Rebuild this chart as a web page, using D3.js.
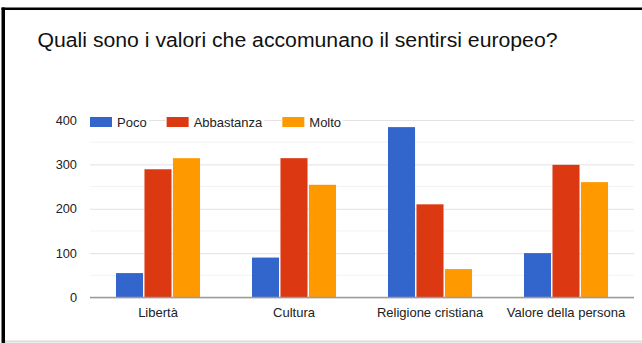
<!DOCTYPE html>
<html>
<head>
<meta charset="utf-8">
<script src="https://cdn.jsdelivr.net/npm/d3@7"></script>
<style>
  html, body { margin: 0; padding: 0; background: #fff; }
  svg { display: block; font-family: "Liberation Sans", Arial, sans-serif; }
</style>
</head>
<body>
<svg id="chart" width="642" height="343"></svg>
<script>
// Survey answers per shared value
const categories = ["Libertà", "Cultura", "Religione cristiana", "Valore della persona"];
const seriesNames = ["Poco", "Abbastanza", "Molto"];
const poco = [55, 90, 384, 100];
const abbastanza = [289, 314, 210, 299];
const molto = [314, 254, 64, 260];
const yTicks = [0, 100, 200, 300, 400];
const yMinorTicks = [50, 150, 250, 350];
const colors = ["#3366cc", "#dc3912", "#ff9900"];
const title = "Quali sono i valori che accomunano il sentirsi europeo?";

const seriesValues = [poco, abbastanza, molto];
const rows = categories.map((c, i) => ({
  category: c,
  values: seriesNames.map((s, j) => ({ series: s, value: seriesValues[j][i] }))
}));

const svg = d3.select("#chart");

// Frame
svg.append("line").attr("x1", 3.25).attr("x2", 3.25).attr("y1", 7.5).attr("y2", 343)
  .attr("stroke", "#000").attr("stroke-width", 3.5);
svg.append("line").attr("x1", 1.5).attr("x2", 642).attr("y1", 8.75).attr("y2", 8.75)
  .attr("stroke", "#000").attr("stroke-width", 2.5);
svg.append("line").attr("x1", 5).attr("x2", 642).attr("y1", 341.5).attr("y2", 341.5)
  .attr("stroke", "#dcdcdc").attr("stroke-width", 2);

// Title
svg.append("text")
  .attr("x", 37.5).attr("y", 46.5)
  .attr("font-size", 19.5)
  .attr("fill", "#111")
  .attr("textLength", 520)
  .attr("lengthAdjust", "spacingAndGlyphs")
  .text(title);

// Scales
const plotLeft = 90, plotRight = 634, plotTop = 120, plotBottom = 297.5;
const x0 = d3.scaleBand().domain(categories).range([plotLeft, plotRight])
  .paddingInner(0.382).paddingOuter(0.191);
const x1 = d3.scaleBand().domain(seriesNames).range([0, x0.bandwidth()]).paddingInner(0.05);
const y = d3.scaleLinear().domain([0, 400]).range([plotBottom, plotTop]);

// Minor and major gridlines
svg.append("g").selectAll("line").data(yMinorTicks).join("line")
  .attr("x1", plotLeft).attr("x2", plotRight)
  .attr("y1", d => y(d)).attr("y2", d => y(d))
  .attr("stroke", "#f3f3f3").attr("stroke-width", 1);

const yAxis = svg.append("g")
  .attr("transform", `translate(${plotLeft},0)`)
  .call(d3.axisLeft(y).tickValues(yTicks).tickSize(-(plotRight - plotLeft)).tickPadding(13));
yAxis.select(".domain").remove();
yAxis.selectAll(".tick line").attr("stroke", "#e2e2e2").attr("stroke-width", 1);
yAxis.selectAll(".tick text")
  .attr("font-size", 12.8).attr("fill", "#222")
  .attr("font-family", "'Liberation Sans', Arial, sans-serif");

// Legend
const legend = svg.append("g").attr("transform", "translate(90,117)");
let lx = 0;
seriesNames.forEach((name, i) => {
  const g = legend.append("g").attr("transform", `translate(${lx},0)`);
  const t = g.append("text").attr("x", 27).attr("y", 9.5)
    .attr("font-size", 13).attr("fill", "#222").text(name);
  const w = t.node().getComputedTextLength();
  g.insert("rect", "text").attr("x", -1).attr("y", -4).attr("width", 27 + w + 3).attr("height", 18)
    .attr("fill", "#fff");
  g.append("rect").attr("x", 0).attr("y", 0).attr("width", 22).attr("height", 10)
    .attr("fill", colors[i]);
  lx += 27 + w + 20;
});

// Bars
const groups = svg.append("g").selectAll("g").data(rows).join("g")
  .attr("transform", d => `translate(${x0(d.category)},0)`);
groups.selectAll("rect").data(d => d.values).join("rect")
  .attr("x", d => x1(d.series))
  .attr("width", x1.bandwidth())
  .attr("y", d => y(d.value))
  .attr("height", d => y(0) - y(d.value))
  .attr("fill", (d, i) => colors[i]);

// Baseline
svg.append("line").attr("x1", plotLeft).attr("x2", plotRight)
  .attr("y1", y(0)).attr("y2", y(0))
  .attr("stroke", "#9a9a9a").attr("stroke-width", 1.5);

// Category labels
const xAxis = svg.append("g")
  .attr("transform", `translate(0,${plotBottom})`)
  .call(d3.axisBottom(x0).tickSize(0).tickPadding(10));
xAxis.select(".domain").remove();
xAxis.selectAll(".tick text")
  .attr("font-size", 13).attr("fill", "#222")
  .attr("font-family", "'Liberation Sans', Arial, sans-serif");
</script>
</body>
</html>
